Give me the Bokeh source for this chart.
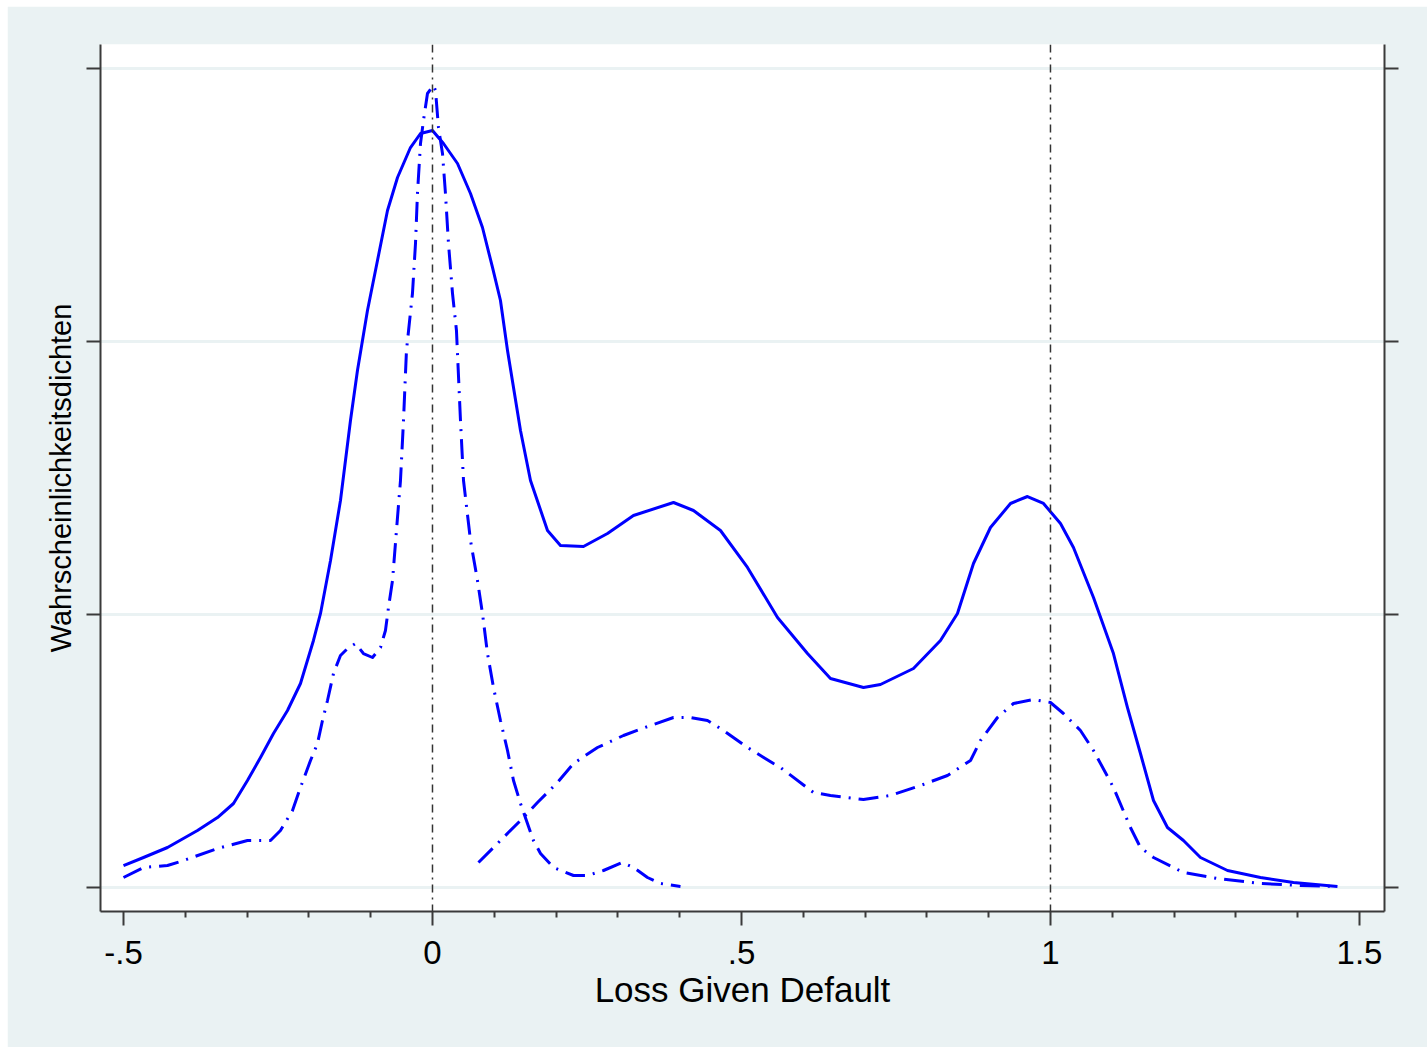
from bokeh.plotting import figure
from bokeh.models import Range1d, FixedTicker, LinearAxis, Span, Spacer
from bokeh.layouts import row, column
from bokeh.embed import file_html
from bokeh.resources import INLINE

# ---- data ----
total_x = [-0.5, -0.4676, -0.4288, -0.3803, -0.3479, -0.3220, -0.2994, -0.2783, -0.2573, -0.2346,
           -0.2136, -0.1926, -0.1812, -0.1650, -0.1489, -0.1327, -0.1214, -0.1052, -0.0890, -0.0728,
           -0.0566, -0.0356, -0.0194, 0.0, 0.0178, 0.0405, 0.0615, 0.0809, 0.0971, 0.1100,
           0.1214, 0.1424, 0.1586, 0.1861, 0.2071, 0.2443, 0.2832, 0.3252, 0.3900, 0.4223,
           0.4660, 0.5097, 0.5583, 0.6068, 0.6440, 0.6974, 0.7249, 0.7783, 0.8220, 0.8495,
           0.8754, 0.9029, 0.9353, 0.9628, 0.9887, 1.0162, 1.0372, 1.0696, 1.1019, 1.1246,
           1.1456, 1.1667, 1.1893, 1.2152, 1.2427, 1.2864, 1.3398, 1.3932, 1.4644]
total_y = [0.080, 0.1099, 0.1465, 0.2088, 0.2564, 0.3077, 0.3919, 0.4762, 0.5641, 0.6484,
           0.7473, 0.9048, 1.0037, 1.1978, 1.4176, 1.7106, 1.8938, 2.1136, 2.2967, 2.4799,
           2.6007, 2.7106, 2.7619, 2.7729, 2.7253, 2.6520, 2.5421, 2.4176, 2.2711, 2.1502,
           1.9670, 1.6740, 1.4908, 1.3077, 1.2527, 1.2491, 1.2967, 1.3626, 1.4103, 1.3810,
           1.3077, 1.1722, 0.9890, 0.8571, 0.7656, 0.7326, 0.7436, 0.8022, 0.9048, 1.0037,
           1.1868, 1.3187, 1.4066, 1.4322, 1.4066, 1.3333, 1.2454, 1.0623, 0.8571, 0.6593,
           0.4908, 0.3187, 0.2198, 0.1722, 0.1099, 0.0623, 0.0366, 0.0183, 0.0037]

low_x = [-0.5, -0.4676, -0.4288, -0.4029, -0.3479, -0.2994, -0.2621, -0.2460, -0.2265, -0.2136,
         -0.1974, -0.1861, -0.1780, -0.1699, -0.1602, -0.1489, -0.1375, -0.1246, -0.1117, -0.0971,
         -0.0841, -0.0761, -0.0712, -0.0647, -0.0583, -0.0518, -0.0469, -0.0421, -0.0324, -0.0275,
         -0.0243, -0.0194, -0.0146, -0.0081, 0.0016, 0.0049, 0.0097, 0.0162, 0.0210, 0.0259,
         0.0324, 0.0388, 0.0453, 0.0502, 0.0615, 0.0728, 0.0809, 0.0890, 0.0987, 0.1100,
         0.1214, 0.1311, 0.1424, 0.1537, 0.1634, 0.1748, 0.1958, 0.2282, 0.2508, 0.2767,
         0.3074, 0.3252, 0.3479, 0.3689, 0.4013]
low_y = [0.0366, 0.0733, 0.0806, 0.0989, 0.1429, 0.1722, 0.1722, 0.2088, 0.2821, 0.3663,
         0.4652, 0.5275, 0.6117, 0.6850, 0.7839, 0.8498, 0.8755, 0.8938, 0.8571, 0.8425,
         0.8791, 0.9414, 1.0256, 1.1245, 1.3077, 1.4908, 1.7106, 1.9670, 2.1758, 2.3590,
         2.5421, 2.7253, 2.8095, 2.9084, 2.9377, 2.9194, 2.7839, 2.6886, 2.5421, 2.3590,
         2.1758, 2.0403, 1.7106, 1.4908, 1.2711, 1.1245, 1.0037, 0.8571, 0.7326, 0.6117,
         0.5018, 0.3919, 0.3077, 0.2344, 0.1722, 0.1245, 0.0733, 0.0440, 0.0440, 0.0623,
         0.0916, 0.0733, 0.0366, 0.0147, 0.0037]

high_x = [0.0744, 0.1100, 0.1424, 0.1699, 0.2023, 0.2282, 0.2670, 0.3091, 0.3528, 0.3900,
          0.4175, 0.4450, 0.4709, 0.5097, 0.5518, 0.5631, 0.6165, 0.6440, 0.6974, 0.7411,
          0.7896, 0.8333, 0.8706, 0.8867, 0.9142, 0.9401, 0.9725, 1.0000, 1.0210, 1.0485,
          1.0696, 1.1019, 1.1294, 1.1456, 1.1667, 1.2152, 1.2702, 1.3398, 1.4045, 1.4644]
high_y = [0.0916, 0.1722, 0.2454, 0.3114, 0.3846, 0.4542, 0.5128, 0.5568, 0.5934, 0.6227,
          0.6227, 0.6117, 0.5751, 0.5128, 0.4542, 0.4396, 0.3480, 0.3370, 0.3223, 0.3370,
          0.3736, 0.4103, 0.4652, 0.5385, 0.6227, 0.6740, 0.6886, 0.6777, 0.6374, 0.5751,
          0.5018, 0.3663, 0.2198, 0.1465, 0.1099, 0.0549, 0.0330, 0.0147, 0.0073, 0.0037]

ref_lines = [0, 1]
x_ticks = [-0.5, 0, 0.5, 1, 1.5]
x_tick_labels = ["-.5", "0", ".5", "1", "1.5"]
x_minor = [-0.4, -0.3, -0.2, -0.1, 0.1, 0.2, 0.3, 0.4, 0.6, 0.7, 0.8, 0.9, 1.1, 1.2, 1.3, 1.4]
y_ticks = [0, 1, 2, 3]

BG = "#EAF2F3"
AX = "#3a3a3a"
BLUE = "#0000FF"
FONT = "Liberation Sans"

p = figure(width=1420, height=1041, output_backend="svg", toolbar_location=None,
           x_range=Range1d(-0.5372, 1.5405), y_range=Range1d(-0.0879, 3.0879),
           background_fill_color="white", border_fill_color=BG,
           min_border_left=93, min_border_right=43, min_border_top=38, min_border_bottom=136)
p.outline_line_color = None

# x axis
xa = p.xaxis[0]
xa.ticker = FixedTicker(ticks=x_ticks, minor_ticks=x_minor)
xa.major_label_overrides = {t: l for t, l in zip(x_ticks, x_tick_labels)}
xa.axis_label = "Loss Given Default"
xa.axis_label_text_font = FONT
xa.axis_label_text_font_size = "35px"
xa.axis_label_text_font_style = "normal"
xa.axis_label_text_color = "black"
xa.axis_label_standoff = 3
xa.major_label_text_font = FONT
xa.major_label_text_font_size = "33px"
xa.major_label_text_color = "black"
xa.major_label_standoff = 15
xa.major_tick_out = 14
xa.major_tick_in = 0
xa.minor_tick_out = 6
xa.minor_tick_in = 0
xa.axis_line_color = AX
xa.axis_line_width = 2
xa.major_tick_line_color = AX
xa.major_tick_line_width = 2
xa.minor_tick_line_color = AX
xa.minor_tick_line_width = 2

def blank_y_axis(a):
    a.ticker = FixedTicker(ticks=y_ticks, minor_ticks=[])
    a.major_label_overrides = {t: "" for t in y_ticks}
    a.major_label_standoff = 0
    a.major_tick_out = 14
    a.major_tick_in = 0
    a.axis_line_color = AX
    a.axis_line_width = 2
    a.major_tick_line_color = AX
    a.major_tick_line_width = 2

# left y axis
ya = p.yaxis[0]
blank_y_axis(ya)
ya.axis_label = "Wahrscheinlichkeitsdichten"
ya.axis_label_text_font = FONT
ya.axis_label_text_font_size = "29px"
ya.axis_label_text_font_style = "normal"
ya.axis_label_text_color = "black"
ya.axis_label_standoff = 10

# right y axis
ra = LinearAxis()
blank_y_axis(ra)
p.add_layout(ra, "right")

p.xgrid.grid_line_color = None
p.ygrid.ticker = FixedTicker(ticks=y_ticks)
p.ygrid.grid_line_color = BG
p.ygrid.grid_line_width = 3

for loc in ref_lines:
    p.add_layout(Span(location=loc, dimension="height", line_color="#333333",
                      line_width=1.5, line_dash="8 5 2 5"))

p.line(total_x, total_y, line_color=BLUE, line_width=3, line_join="round")
p.line(low_x, low_y, line_color=BLUE, line_width=3, line_dash="20 8 2 8", line_join="round")
p.line(high_x, high_y, line_color=BLUE, line_width=3, line_dash="20 8 2 8", line_join="round")

layout = row(Spacer(width=7), column(Spacer(height=6), p))
open("out.html", "w").write(file_html(layout, INLINE))
